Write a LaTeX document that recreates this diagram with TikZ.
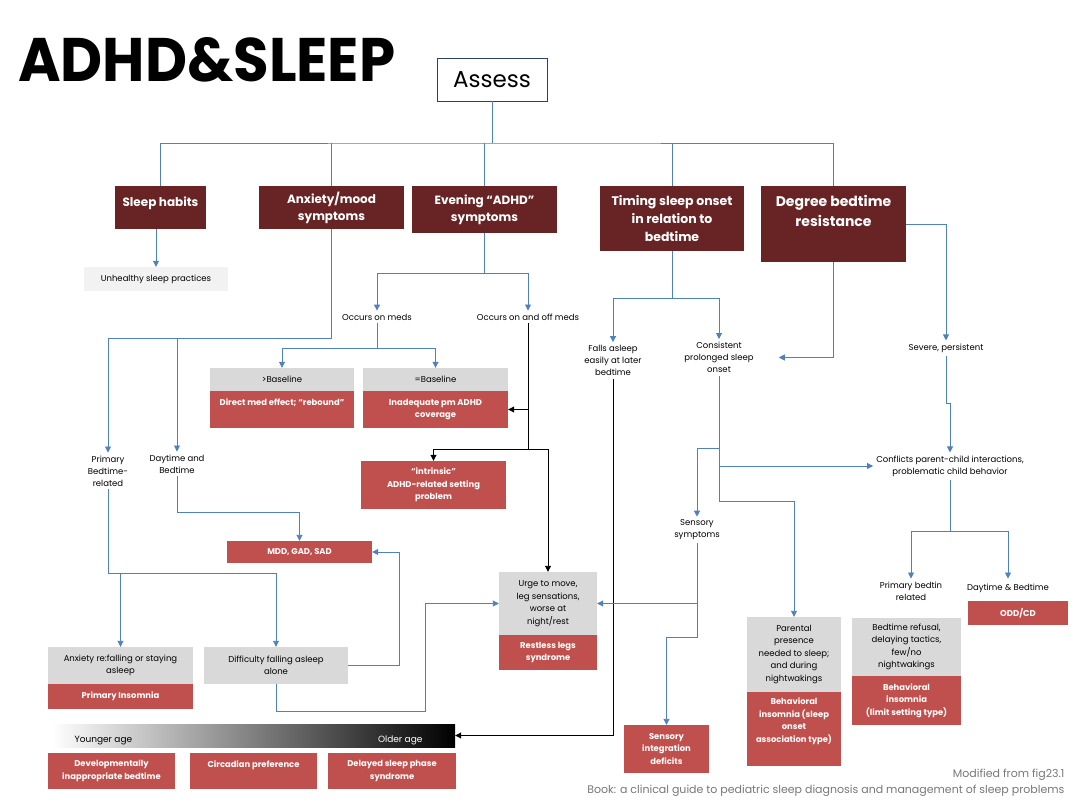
\documentclass[tikz,border=0pt]{standalone}
\usepackage{fontspec}
\setmainfont{Poppins}
\usepackage{graphicx}
\usetikzlibrary{arrows.meta}

\definecolor{headred}{RGB}{104,36,36}
\definecolor{brick}{RGB}{192,80,77}
\definecolor{boxgray}{RGB}{217,217,217}
\definecolor{palegray}{RGB}{242,242,242}
\definecolor{lineblue}{RGB}{79,129,189}
\definecolor{frameblue}{RGB}{47,62,99}
\definecolor{creditgray}{RGB}{120,120,120}

\begin{document}
\begin{tikzpicture}[x=1pt,y=-1pt,
    head/.style={fill=headred, text=white, font=\bfseries\fontsize{12}{17}\selectfont, align=center, inner sep=2pt},
    redbox/.style={fill=brick, text=white, font=\bfseries\fontsize{8.4}{12.5}\selectfont, align=center, inner sep=1pt},
    graybox/.style={fill=boxgray, font=\fontsize{8.5}{12.5}\selectfont, align=center, inner sep=1pt},
    txt/.style={font=\fontsize{8.5}{12}\selectfont, align=center, inner sep=3pt},
    link/.style={draw=lineblue, line width=0.9pt},
    arr/.style={link, -{Triangle[width=6pt,length=6pt]}},
    blk/.style={draw=black, line width=0.9pt},
    blkarr/.style={blk, -{Triangle[width=6pt,length=6pt]}}]
    \path[fill=white, use as bounding box] (0,0) rectangle (1080,810);

    % Title and root
    \node[anchor=base west, inner sep=0pt, font=\bfseries] (title) at (18,82) {\resizebox{377pt}{44pt}{ADHD\&SLEEP}};
    \node[draw=frameblue, line width=0.8pt, minimum width=110pt, minimum height=43pt, font=\fontsize{23}{26}\selectfont] (assess) at (492,79.5) {Assess};

    % Main questions
    \node[head, minimum width=91pt, minimum height=43pt, text depth=11pt] (sleep) at (160.5,207.5) {Sleep habits};
    \node[head, minimum width=145pt, minimum height=43pt] (anx) at (331.5,207.5) {Anxiety/mood\\symptoms};
    \node[head, minimum width=145pt, minimum height=47pt] (eve) at (484.5,209.5) {Evening “ADHD”\\symptoms};
    \node[head, minimum width=144pt, minimum height=65pt, font=\bfseries\fontsize{12.5}{18}\selectfont] (tim) at (672,218.5) {Timing sleep onset\\in relation to\\bedtime};
    \node[head, minimum width=145pt, minimum height=76pt, font=\bfseries\fontsize{14}{20}\selectfont, text depth=27pt] (deg) at (833.5,224) {Degree bedtime\\resistance};

    % Plain labels
    \node[txt, fill=palegray, minimum width=144pt, minimum height=24pt] (unhealthy) at (156,279) {Unhealthy sleep practices};
    \node[txt] (onmeds) at (377,317) {Occurs on meds};
    \node[txt] (onoff) at (528,317) {Occurs on and off meds};
    \node[txt] (primbed) at (108,471) {Primary\\Bedtime-\\related};
    \node[txt] (daybed) at (177,464) {Daytime and\\Bedtime};
    \node[txt] (falls) at (613,360.5) {Falls asleep\\easily at later\\bedtime};
    \node[txt] (consist) at (719,357.5) {Consistent\\prolonged sleep\\onset};
    \node[txt] (severe) at (946,348) {Severe, persistent};
    \node[txt] (conflict) at (950,466) {Conflicts parent-child interactions,\\problematic child behavior};
    \node[txt] (sensory) at (697,530) {Sensory\\symptoms};
    \node[txt] (primbedtin) at (911,591) {Primary bedtin\\related};
    \node[txt] (daybedb) at (1008,588) {Daytime \& Bedtime};

    % Findings and diagnoses
    \node[graybox, minimum width=144pt, minimum height=23pt] (gtbase) at (282,379.5) {>Baseline};
    \node[redbox, minimum width=144pt, minimum height=37pt, text depth=15pt] (rdirect) at (282,409.5) {Direct med effect; “rebound”};
    \node[graybox, minimum width=145pt, minimum height=23pt] (gteq) at (435.5,379.5) {=Baseline};
    \node[redbox, minimum width=145pt, minimum height=37pt] (rinad) at (435.5,409.5) {Inadequate pm ADHD\\coverage};
    \node[redbox, minimum width=145pt, minimum height=48pt] (rintr) at (433.5,485) {“intrinsic”\\ADHD-related setting\\problem};
    \node[redbox, minimum width=145pt, minimum height=22pt] (rmdd) at (299.5,552) {MDD, GAD, SAD};
    \node[graybox, minimum width=145pt, minimum height=37pt] (ganx) at (120.5,665.5) {Anxiety re:falling or staying\\asleep};
    \node[redbox, minimum width=145pt, minimum height=25pt] (rprim) at (120.5,696.5) {Primary Insomnia};
    \node[graybox, minimum width=144pt, minimum height=37pt] (gdiff) at (276,665.5) {Difficulty falling asleep\\alone};
    \node[graybox, minimum width=98pt, minimum height=63pt] (gurge) at (548,603.5) {Urge to move,\\leg sensations,\\worse at\\night/rest};
    \node[redbox, minimum width=98pt, minimum height=35pt] (rrls) at (548,652.5) {Restless legs\\syndrome};
    \node[redbox, minimum width=85pt, minimum height=48pt] (rsid) at (666.5,749) {Sensory\\integration\\deficits};
    \node[graybox, minimum width=94pt, minimum height=75pt] (gparent) at (794,654.5) {Parental\\presence\\needed to sleep;\\and during\\nightwakings};
    \node[redbox, minimum width=94pt, minimum height=74pt, text depth=17.5pt] (rbeh1) at (794,729) {Behavioral\\insomnia (sleep\\onset\\association type)};
    \node[graybox, minimum width=109pt, minimum height=58pt] (grefuse) at (906.5,647) {Bedtime refusal,\\delaying tactics,\\few/no\\nightwakings};
    \node[redbox, minimum width=109pt, minimum height=49pt] (rbeh2) at (906.5,700.5) {Behavioral\\insomnia\\(limit setting type)};
    \node[redbox, minimum width=100pt, minimum height=24pt, font=\bfseries\fontsize{8.5}{12}\selectfont] (rodd) at (1018,613) {ODD/CD};

    % Age scale
    \node[left color=white, right color=black, minimum width=403pt, minimum height=23pt, inner sep=0pt] (agebar) at (253.5,735.5) {};
    \node[anchor=base west, font=\fontsize{9}{11}\selectfont] (younger) at (71,742) {Younger age};
    \node[anchor=base east, text=white, font=\fontsize{9}{11}\selectfont] (older) at (426,742) {Older age};
    \node[redbox, minimum width=127pt, minimum height=36pt] (rdev) at (111.5,771) {Developmentally\\inappropriate bedtime};
    \node[redbox, minimum width=127pt, minimum height=36pt, text depth=14pt] (rcirc) at (253.5,771) {Circadian preference};
    \node[redbox, minimum width=128pt, minimum height=36pt] (rdsps) at (392,771) {Delayed sleep phase\\syndrome};

    % Source
    \node[anchor=base east, text=creditgray, font=\fontsize{11}{13}\selectfont] (credit1) at (1068,777) {Modified from fig23.1};
    \node[anchor=base east, text=creditgray, font=\fontsize{11}{13}\selectfont] (credit2) at (1068,793) {Book: a clinical guide to pediatric sleep diagnosis and management of sleep problems};

    % Junctions
    \coordinate (bus) at (492,143);
    \coordinate (anxj) at (331.5,338);
    \coordinate (evej) at (484.5,273);
    \coordinate (medj) at (377,348);
    \coordinate (onoffj) at (528,449);
    \coordinate (mddj) at (177,512);
    \coordinate (insj) at (108,573);
    \coordinate (rlsj) at (425,711);
    \coordinate (timj) at (672,298);
    \coordinate (consj) at (719,501);
    \coordinate (sensj) at (719,448);
    \coordinate (confj) at (950,531);
    \coordinate (sidj) at (697,637);

    % Tree from Assess
    \draw[link] (assess.south) -- (bus);
    \draw[link] (sleep.north) |- (bus) -| (deg.north);
    \draw[link] (anx.north) -- (anx.north |- bus);
    \draw[link] (eve.north) -- (eve.north |- bus);
    \draw[link] (tim.north) -- (tim.north |- bus);

    % Sleep habits, anxiety
    \draw[arr] (sleep.south -| unhealthy.north) -- (unhealthy.north);
    \draw[arr] (anx.south) -- (anxj) -| (primbed.north);
    \draw[arr] (daybed.north |- anxj) -- (daybed.north);
    \draw[arr] (daybed.south) -- (mddj) -| (rmdd.north);
    \draw[link] (primbed.south) -- (insj);
    \draw[arr] (insj) -| (gdiff.north);
    \draw[arr] (ganx.north |- insj) -- (ganx.north);
    \draw[arr] (gdiff.east) -- ++(51,0) |- (rmdd.east);
    \draw[arr] (gdiff.south) |- (rlsj) |- (gurge.west);

    % Evening symptoms
    \draw[link] (eve.south) -- (evej);
    \draw[arr] (evej) -| (onmeds.north);
    \draw[arr] (evej) -| (onoff.north);
    \draw[link] (onmeds.south) -- (medj);
    \draw[arr] (medj) -| (gtbase.north);
    \draw[arr] (medj) -| (gteq.north);
    \draw[blk] (onoff.south) -- (onoffj);
    \draw[blkarr] (onoff.south |- rinad.east) -- (rinad.east);
    \draw[blkarr] (onoffj) -| (rintr.north);
    \draw[blkarr] (onoffj) -| (gurge.north);

    % Timing and resistance
    \draw[link] (tim.south) -- (timj);
    \draw[arr] (timj) -| (falls.north);
    \draw[arr] (timj) -| (consist.north);
    \draw[blkarr] (falls.south) |- (agebar.east);
    \draw[arr] (deg.south) |- ([xshift=22pt]consist.east);
    \draw[arr] (deg.east) -| (severe.north);
    \draw[arr] (severe.south) -- ++(0,48) -| (conflict.north);
    \draw[link] (conflict.south) -- (confj);
    \draw[arr] (confj) -| (primbedtin.north);
    \draw[arr] (confj) -| (daybedb.north |- primbedtin.north);
    \draw[arr] (consist.south) -- (consj) -| (gparent.north);
    \draw[arr] (sensj) -| (sensory.north);
    \draw[arr] (consist.south |- conflict.west) -- (conflict.west);
    \draw[arr] (sensory.south) |- (gurge.east);
    \draw[arr] (sensory.south) -- (sidj) -| (rsid.north);
\end{tikzpicture}
\end{document}
